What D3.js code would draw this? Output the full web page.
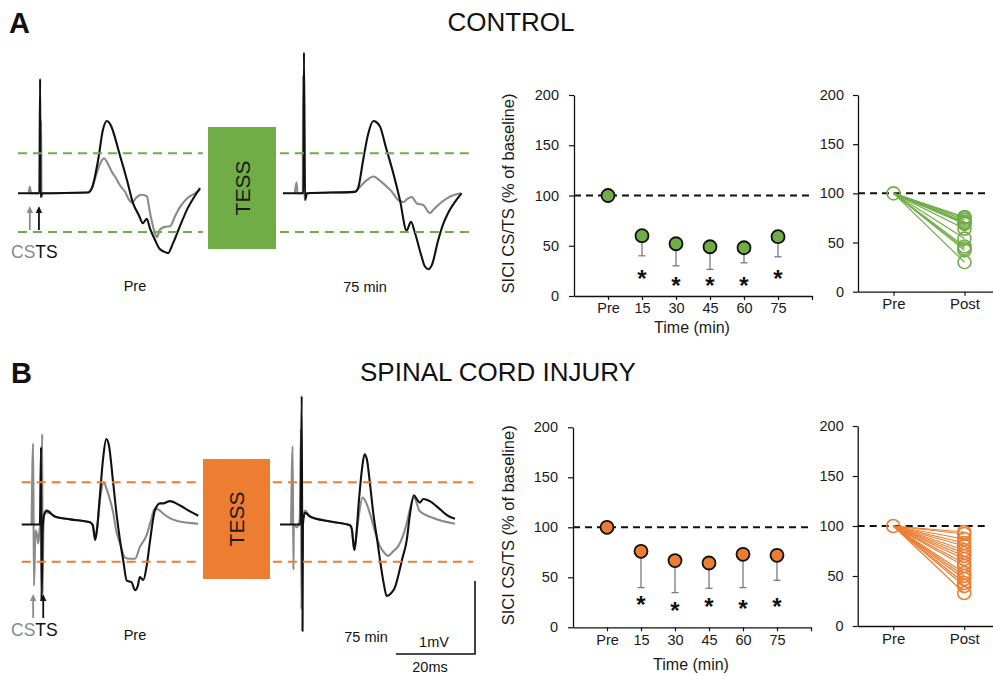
<!DOCTYPE html>
<html>
<head>
<meta charset="utf-8">
<script src="https://cdn.jsdelivr.net/npm/d3@7"></script>
<style>
  body { margin: 0; background: #fff; }
  svg { display: block; }
  text { font-family: "Liberation Sans", Arial, Helvetica, sans-serif; }
</style>
</head>
<body>
<svg id="fig" width="993" height="676"></svg>
<script>
// ---------------- data ----------------
const timeLabels = ["Pre", "15", "30", "45", "60", "75"];
const pairLabels = ["Pre", "Post"];
const yTicks = [0, 50, 100, 150, 200];
const baselineLevel = 100;

// SICI CS/TS (% of baseline): mean and lower end of the error bar
const controlMean  = [100, 60, 52, 49, 48, 59];
const controlLower = [null, 40, 30, 26.5, 33, 39];
const controlStar  = [null, 23, 16, 16, 16, 22.5];   // level of the significance asterisk
const sciMean      = [100, 76, 66.7, 64.3, 73, 72];
const sciLower     = [null, 39.7, 34.7, 39, 39.7, 47];
const sciStar      = [null, 28, 22, 26, 24, 26.5];

// individual participants, post TESS (% of baseline)
const controlPost = [76, 75, 73, 71, 70, 69, 64, 54, 46, 44, 42, 30];
const sciPost     = [94, 92, 87, 83, 80, 76, 73, 70, 67, 63, 60, 53, 50, 47, 43, 40, 33];

// MEP traces, [time (ms), amplitude (mV)]; TS = test stimulus alone, CSTS = conditioned
const ctrlPreTS = [[0,0],[5.4,0],[5.6,1.57],[5.7,-0.05],[6.1,0],[17.7,0.01],[18.7,0.07],[20.3,0.46],[21.5,0.87],[22.5,0.99],[23.3,0.95],[25.8,0.52],[27.6,0.18],[29.1,-0.13],[30.6,-0.30],[31.6,-0.41],[32.6,-0.35],[33.4,-0.48],[34.7,-0.64],[35.7,-0.75],[37.0,-0.80],[38.0,-0.82],[39.2,-0.69],[41.0,-0.45],[43.0,-0.20],[44.6,-0.05],[46.1,0.07]];
const ctrlPreCSTS = [[2.7,0],[3.0,0.09],[3.3,0],[5.6,0],[5.85,1.0],[5.95,-0.05],[6.3,0],[17.7,0.01],[18.7,0.07],[20.0,0.29],[21.0,0.43],[21.8,0.48],[22.5,0.43],[23.8,0.29],[24.8,0.21],[25.8,0.11],[27.1,0.02],[28.1,-0.09],[28.9,-0.13],[29.9,-0.06],[31.3,-0.02],[32.6,-0.04],[33.4,-0.26],[34.4,-0.50],[35.2,-0.60],[35.9,-0.50],[37.2,-0.46],[38.5,-0.45],[39.7,-0.32],[41.0,-0.19],[43.0,-0.06],[44.8,0.00],[46.1,0.05]];
const ctrlPostTS = [[0,0],[5.2,0],[5.3,1.93],[5.6,-0.09],[6.1,0],[18.2,0.02],[19.0,0.07],[20.3,0.46],[21.5,0.80],[22.9,0.99],[23.5,0.98],[24.6,0.91],[26.1,0.62],[27.9,0.28],[29.6,-0.09],[31.3,-0.51],[32.4,-0.39],[33.4,-0.54],[35.1,-0.87],[35.9,-1.00],[36.8,-1.04],[37.7,-0.98],[39.3,-0.64],[40.5,-0.43],[41.8,-0.27],[43.5,-0.12],[45.2,0]];
const ctrlPostCSTS = [[3.0,0],[3.4,0.15],[3.7,0],[5.0,0],[5.1,1.62],[5.4,-0.09],[6.1,0],[18.2,0.02],[19.5,0.09],[21.0,0.17],[22.9,0.23],[24.6,0.17],[26.3,0.09],[27.6,0.02],[28.8,-0.07],[30.5,-0.12],[31.4,-0.08],[32.6,-0.05],[33.9,-0.14],[35.5,-0.16],[37.2,-0.27],[38.0,-0.23],[38.9,-0.18],[41.5,-0.07],[43.5,-0.02],[45.2,0]];
const sciPreTS = [[0,0],[4.6,0],[4.9,1.06],[5.0,-1.04],[5.3,-0.08],[5.6,0.12],[6.3,0.19],[8.4,0.11],[12.3,0.07],[17.3,0.03],[18.0,-0.01],[18.6,-0.21],[19.1,-0.05],[19.8,0.40],[20.6,0.90],[21.4,1.17],[22.1,1.08],[23.1,0.60],[24.0,0.15],[24.9,-0.22],[25.7,-0.49],[26.6,-0.77],[27.8,-0.79],[28.7,-0.90],[29.4,-0.84],[29.9,-0.72],[30.8,-0.76],[31.6,-0.58],[32.5,-0.22],[33.7,0.19],[35.0,0.29],[35.8,0.29],[37.5,0.32],[40.1,0.26],[42.6,0.18],[44.7,0.12]];
const sciPreCSTS = [[2.5,0],[2.9,1.11],[3.1,-0.84],[3.5,-0.08],[3.9,-0.15],[4.2,-0.26],[4.5,-0.08],[4.9,0.05],[5.2,1.24],[5.3,-0.95],[5.5,-0.01],[5.9,0.16],[6.7,0.16],[8.4,0.11],[12.3,0.07],[17.3,0.03],[18.0,-0.01],[18.6,-0.21],[19.1,-0.05],[19.8,0.33],[20.8,0.57],[21.6,0.47],[22.4,0.33],[23.2,0.15],[23.9,-0.08],[24.9,-0.26],[26.1,-0.45],[27.4,-0.47],[28.7,-0.47],[29.9,-0.31],[31.6,-0.15],[32.7,0.05],[33.7,0.22],[35.0,0.19],[35.8,0.15],[39.2,0.05],[44.7,0.01]];
const sciPostTS = [[0,0],[5.2,0],[5.5,1.76],[5.7,-1.46],[5.8,0],[6.3,0.16],[7.6,0.11],[12.7,0.04],[17.7,-0.01],[18.2,-0.07],[18.8,-0.35],[19.2,-0.21],[20.0,0.34],[20.8,0.78],[21.4,0.96],[22.0,0.89],[22.8,0.55],[23.6,0.16],[24.6,-0.21],[25.3,-0.48],[26.3,-0.82],[27.0,-0.98],[28.3,-0.93],[29.1,-0.86],[29.9,-0.71],[30.9,-0.48],[32.1,-0.21],[32.9,0.14],[33.9,0.40],[34.7,0.34],[35.4,0.30],[36.3,0.35],[37.9,0.32],[40.5,0.21],[42.5,0.12],[44.3,0.08]];
const sciPostCSTS = [[2.8,0],[3.2,1.07],[3.4,-0.62],[3.5,0],[4.3,-0.04],[5.0,0.07],[5.3,1.30],[5.4,-1.16],[5.8,0.07],[6.3,0.19],[7.6,0.11],[12.7,0.04],[17.7,-0.01],[18.2,-0.07],[18.8,-0.35],[19.2,-0.21],[20.0,0.14],[20.9,0.37],[21.8,0.30],[23.2,0.07],[24.3,-0.14],[25.3,-0.30],[26.3,-0.38],[27.4,-0.43],[28.6,-0.37],[29.9,-0.30],[32.1,0.02],[32.9,0.21],[33.9,0.37],[35.4,0.18],[38.8,0.09],[44.3,0.01]];

// amplitude thresholds (mV) drawn as dashed guides
const ctrlThreshold = [0.55, -0.53];
const sciThreshold  = [0.58, -0.51];

// scale bar
const scaleBarMs = 20, scaleBarMv = 1;

// ---------------- drawing ----------------
const GREEN = "#70ad47", ORANGE = "#ed7d31", GREY = "#8a8a8a", INK = "#111";
const svg = d3.select("#fig");

// 20 ms -> 79 px, 1 mV -> 73 px
const traceX = x0 => d3.scaleLinear().domain([0, 20]).range([x0, x0 + 79]);
const traceY = y0 => d3.scaleLinear().domain([0, 1]).range([y0, y0 - 73]);

function drawTracePanel(g, x0, y0, tsData, cstsData) {
  const x = traceX(x0), y = traceY(y0);
  const line = d3.line().x(d => x(d[0])).y(d => y(d[1])).curve(d3.curveMonotoneX);
  g.append("path").attr("d", line(cstsData)).attr("fill", "none")
    .attr("stroke", GREY).attr("stroke-width", 2.1).attr("stroke-linejoin", "round");
  g.append("path").attr("d", line(tsData)).attr("fill", "none")
    .attr("stroke", INK).attr("stroke-width", 2.1).attr("stroke-linejoin", "round");
  return { x, y };
}

function drawDashed(g, sc, range, levels, color) {
  levels.forEach(v => {
    g.append("line")
      .attr("x1", sc.x(range[0])).attr("x2", sc.x(range[1]))
      .attr("y1", sc.y(v)).attr("y2", sc.y(v))
      .attr("stroke", color).attr("stroke-width", 2).attr("stroke-dasharray", "9,6");
  });
}

function drawArrow(g, x, tip, tail, color) {
  g.append("line").attr("x1", x).attr("x2", x).attr("y1", tail).attr("y2", tip + 5)
    .attr("stroke", color).attr("stroke-width", 1.8);
  g.append("path").attr("d", `M${x},${tip} L${x - 3.2},${tip + 7} L${x + 3.2},${tip + 7} Z`).attr("fill", color);
}

function styleAxis(a, fontSize) {
  a.select(".domain").attr("stroke", INK).attr("stroke-width", 1.3);
  a.selectAll(".tick line").attr("stroke", INK).attr("stroke-width", 1.2);
  a.selectAll(".tick text").attr("fill", "#1a1a1a").attr("font-size", fontSize)
    .attr("font-family", '"Liberation Sans", Arial, sans-serif');
}

function drawTimeChart(g, o) {
  const x = d3.scaleLinear().domain([0, 7]).range([o.x0, o.x1]);
  const y = d3.scaleLinear().domain([0, 200]).range([o.yb, o.yt]);

  const ya = g.append("g").attr("transform", `translate(${o.x0},0)`)
    .call(d3.axisLeft(y).tickValues(yTicks).tickSize(5).tickSizeOuter(0).tickPadding(10));
  styleAxis(ya, 14.5);
  const xa = g.append("g").attr("transform", `translate(0,${o.yb})`)
    .call(d3.axisBottom(x).tickValues(d3.range(1, 8)).tickSize(4).tickSizeOuter(0).tickPadding(3)
      .tickFormat(i => timeLabels[i - 1] || ""));
  styleAxis(xa, 14.5);

  g.append("line").attr("x1", x(0)).attr("x2", x(7))
    .attr("y1", y(baselineLevel)).attr("y2", y(baselineLevel))
    .attr("stroke", INK).attr("stroke-width", 2).attr("stroke-dasharray", "7,5");

  o.mean.forEach((m, i) => {
    if (o.lower[i] == null) return;
    const cx = x(i + 1);
    g.append("line").attr("x1", cx).attr("x2", cx).attr("y1", y(m)).attr("y2", y(o.lower[i]))
      .attr("stroke", "#7a7a7a").attr("stroke-width", 1.3);
    g.append("line").attr("x1", cx - 3.5).attr("x2", cx + 3.5).attr("y1", y(o.lower[i])).attr("y2", y(o.lower[i]))
      .attr("stroke", "#7a7a7a").attr("stroke-width", 1.3);
  });
  g.selectAll("circle.mean").data(o.mean).join("circle").attr("class", "mean")
    .attr("cx", (d, i) => x(i + 1)).attr("cy", d => y(d)).attr("r", 6.5)
    .attr("fill", o.color).attr("stroke", INK).attr("stroke-width", 1.8);
  o.star.forEach((s, i) => {
    if (s == null) return;
    g.append("text").attr("x", x(i + 1)).attr("y", y(s) + 14)
      .attr("text-anchor", "middle").attr("font-size", 24).attr("font-weight", "bold")
      .attr("fill", INK).text("*");
  });

  g.append("text").attr("transform", `translate(${o.labelX},${(o.yb + o.yt) / 2 - 2}) rotate(-90)`)
    .attr("text-anchor", "middle").attr("font-size", 16.5).attr("fill", "#1a1a1a")
    .text("SICI CS/TS (% of baseline)");
  g.append("text").attr("x", (x(0) + x(7)) / 2 - 1).attr("y", o.titleY)
    .attr("text-anchor", "middle").attr("font-size", 16).attr("fill", "#1a1a1a").text("Time (min)");
}

function drawPairChart(g, o) {
  const x = d3.scaleLinear().domain([0.5, 2.5]).range([o.x0, o.x0 + 142]);
  const y = d3.scaleLinear().domain([0, 200]).range([o.yb, o.yt]);

  const ya = g.append("g").attr("transform", `translate(${o.x0},0)`)
    .call(d3.axisLeft(y).tickValues(yTicks).tickSize(5).tickSizeOuter(0).tickPadding(9));
  styleAxis(ya, 14.5);
  const xa = g.append("g").attr("transform", `translate(0,${o.yb})`)
    .call(d3.axisBottom(x).tickValues([1, 2]).tickSize(4).tickSizeOuter(0).tickPadding(3)
      .tickFormat(i => pairLabels[i - 1]));
  styleAxis(xa, 15);

  g.append("line").attr("x1", x(0.5)).attr("x2", x(2.32))
    .attr("y1", y(baselineLevel)).attr("y2", y(baselineLevel))
    .attr("stroke", INK).attr("stroke-width", 2).attr("stroke-dasharray", "7,5");

  o.post.forEach(v => {
    g.append("line").attr("x1", x(1)).attr("y1", y(baselineLevel)).attr("x2", x(2)).attr("y2", y(v))
      .attr("stroke", o.color).attr("stroke-width", 1.2);
  });
  g.append("circle").attr("cx", x(1)).attr("cy", y(baselineLevel)).attr("r", 6.5)
    .attr("fill", "none").attr("stroke", o.color).attr("stroke-width", 1.6);
  g.selectAll("circle.post").data(o.post).join("circle").attr("class", "post")
    .attr("cx", x(2)).attr("cy", d => y(d)).attr("r", 6.5)
    .attr("fill", "none").attr("stroke", o.color).attr("stroke-width", 1.6);
}

function drawRow(r) {
  const g = svg.append("g");
  g.append("text").attr("x", r.letterX).attr("y", r.letterY).attr("font-size", 29)
    .attr("font-weight", "bold").attr("fill", INK).text(r.letter);
  g.append("text").attr("x", r.titleX).attr("y", r.titleY).attr("text-anchor", "middle")
    .attr("font-size", 26).attr("fill", INK).text(r.title);

  const pre = drawTracePanel(g, r.preX0, r.baseY, r.traces[0], r.traces[1]);
  const post = drawTracePanel(g, r.postX0, r.baseY, r.traces[2], r.traces[3]);
  drawDashed(g, pre, r.dashPre, r.threshold, r.color);
  drawDashed(g, post, r.dashPost, r.threshold, r.color);

  g.append("rect").attr("x", r.box[0]).attr("y", r.box[1]).attr("width", r.box[2]).attr("height", r.box[3])
    .attr("fill", r.color);
  g.append("text").attr("transform", `translate(${r.box[0] + r.box[2] / 2 + 7.5},${r.box[1] + r.box[3] / 2}) rotate(-90)`)
    .attr("text-anchor", "middle").attr("font-size", 21).attr("fill", "#1a1a1a").text("TESS");

  drawArrow(g, pre.x(r.arrowMs[0]), r.arrowY[0], r.arrowY[1], GREY);
  drawArrow(g, pre.x(r.arrowMs[1]), r.arrowY[0], r.arrowY[1], INK);
  const cs = g.append("text").attr("x", 11).attr("y", r.csY).attr("font-size", 17.5);
  cs.append("tspan").attr("fill", GREY).text("CS");
  cs.append("tspan").attr("fill", INK).text("TS");

  g.append("text").attr("x", r.preLabel[0]).attr("y", r.preLabel[1]).attr("text-anchor", "middle")
    .attr("font-size", 14.5).attr("fill", INK).text("Pre");
  g.append("text").attr("x", r.postLabel[0]).attr("y", r.postLabel[1]).attr("text-anchor", "middle")
    .attr("font-size", 14.5).attr("fill", INK).text("75 min");

  drawTimeChart(g, r.mid);
  drawPairChart(g, r.pair);
  return { pre, post };
}

drawRow({
  letter: "A", letterX: 9, letterY: 33, title: "CONTROL", titleX: 511, titleY: 31,
  color: GREEN, baseY: 193.3, preX0: 18, postX0: 283,
  traces: [ctrlPreTS, ctrlPreCSTS, ctrlPostTS, ctrlPostCSTS],
  threshold: ctrlThreshold, dashPre: [0, 46.8], dashPost: [-0.8, 48],
  box: [208, 127, 68, 122], arrowMs: [3.0, 5.3], arrowY: [206, 230], csY: 258,
  preLabel: [135, 291], postLabel: [365, 292],
  mid: { x0: 574, x1: 812, yb: 296, yt: 95, labelX: 514, titleY: 333,
         mean: controlMean, lower: controlLower, star: controlStar, color: GREEN },
  pair: { x0: 858, yb: 291.7, yt: 95, post: controlPost, color: GREEN }
});

const rowB = drawRow({
  letter: "B", letterX: 11, letterY: 383, title: "SPINAL CORD INJURY", titleX: 498, titleY: 381,
  color: ORANGE, baseY: 524.5, preX0: 21.7, postX0: 280,
  traces: [sciPreTS, sciPreCSTS, sciPostTS, sciPostCSTS],
  threshold: sciThreshold, dashPre: [0, 45.1], dashPost: [-1.8, 48.9],
  box: [203, 459, 67, 120], arrowMs: [2.9, 5.45], arrowY: [594, 618], csY: 636,
  preLabel: [135, 640], postLabel: [366, 642],
  mid: { x0: 573, x1: 811, yb: 627.3, yt: 427.3, labelX: 514, titleY: 670,
         mean: sciMean, lower: sciLower, star: sciStar, color: ORANGE },
  pair: { x0: 857.7, yb: 626, yt: 426, post: sciPost, color: ORANGE }
});

// calibration bar
const sb = svg.append("g");
const sbRight = 475, sbBottom = 654;
const sbLen = rowB.post.x(scaleBarMs) - rowB.post.x(0);
const sbHt = rowB.post.y(0) - rowB.post.y(scaleBarMv);
sb.append("path").attr("d", `M${sbRight - sbLen},${sbBottom} H${sbRight} V${sbBottom - sbHt}`)
  .attr("fill", "none").attr("stroke", INK).attr("stroke-width", 1.6);
sb.append("text").attr("x", 434).attr("y", 647).attr("text-anchor", "middle").attr("font-size", 14.5).attr("fill", INK).text("1mV");
sb.append("text").attr("x", 430).attr("y", 672).attr("text-anchor", "middle").attr("font-size", 14.5).attr("fill", INK).text("20ms");
</script>
</body>
</html>
